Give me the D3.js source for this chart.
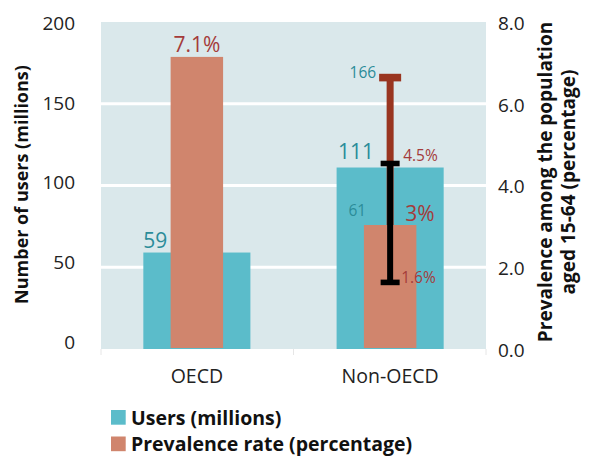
<!DOCTYPE html>
<html>
<head>
<meta charset="utf-8">
<script src="https://cdn.jsdelivr.net/npm/d3@7"></script>
<style>
  html, body { margin: 0; padding: 0; background: #fff; }
  svg { display: block; font-family: "Open Sans", "Noto Sans", sans-serif; }
</style>
</head>
<body>
<svg id="chart" width="592" height="456"></svg>
<script>
const categories = ["OECD", "Non-OECD"];
const users = [59, 111];
const prevalence = [7.1, 3];
const usersLabels = ["59", "111"];
const prevalenceLabels = ["7.1%", "3%"];
const usersRange = [null, [61, 166]];
const prevalenceRange = [null, [1.6, 4.5]];
const leftTicks = [0, 50, 100, 150, 200];
const rightTicks = [0, 2, 4, 6, 8];
const gridTicks = [50, 100, 150];
const legendItems = ["Users (millions)", "Prevalence rate (percentage)"];

const C = {
  bg: "#dae8eb", teal: "#5bbcca", salmon: "#d0856d",
  tealText: "#2b8c99", redText: "#a43b3a", brown: "#993520", black: "#000"
};

const svg = d3.select("#chart");

const x = d3.scaleBand().domain(categories).range([101, 486]).paddingInner(0.446).paddingOuter(0.219);
const yL = d3.scaleLinear().domain([0, 200]).range([349, 22]);
const yR = d3.scaleLinear().domain([0, 8]).range([348, 20]);
// label placement scales for axis tick text
const yLText = d3.scaleLinear().domain([0, 200]).range([342.5, 23.3]);
const yRText = d3.scaleLinear().domain([0, 8]).range([350, 23.3]);

// background
svg.append("rect").attr("x", x.range()[0]).attr("y", yL(200))
  .attr("width", x.range()[1] - x.range()[0]).attr("height", yL(0) - yL(200))
  .attr("fill", C.bg);

// grid
svg.selectAll("line.grid").data(gridTicks).join("line")
  .attr("x1", x.range()[0]).attr("x2", x.range()[1])
  .attr("y1", d => yL(d)).attr("y2", d => yL(d))
  .attr("stroke", "#fff").attr("stroke-width", 3);

// faint category ticks below
const c0 = x(categories[0]) + x.bandwidth() / 2, c1 = x(categories[1]) + x.bandwidth() / 2;
svg.selectAll("line.ctick").data([x.range()[0], (c0 + c1) / 2, x.range()[1]]).join("line")
  .attr("x1", d => d).attr("x2", d => d).attr("y1", yL(0)).attr("y2", yL(0) + 6)
  .attr("stroke", "#e6e6e6").attr("stroke-width", 1);

// users bars
svg.selectAll("rect.users").data(categories).join("rect")
  .attr("x", d => x(d)).attr("width", x.bandwidth())
  .attr("y", (d, i) => yL(users[i])).attr("height", (d, i) => yL(0) - yL(users[i]))
  .attr("fill", C.teal);

const pw = x.bandwidth() * 0.49;
const cx = d => x(d) + x.bandwidth() / 2;

// users error bar (brown)
categories.forEach((d, i) => {
  const r = usersRange[i];
  if (!r) return;
  svg.append("line").attr("x1", cx(d)).attr("x2", cx(d))
    .attr("y1", yL(r[0])).attr("y2", yL(r[1]))
    .attr("stroke", C.brown).attr("stroke-width", 7);
  r.forEach(v => svg.append("rect").attr("x", cx(d) - 11).attr("y", yL(v) - 3.8)
    .attr("width", 22).attr("height", 7.6).attr("fill", C.brown));
});

// prevalence bars
svg.selectAll("rect.prev").data(categories).join("rect")
  .attr("x", d => cx(d) - pw / 2).attr("width", pw)
  .attr("y", (d, i) => yR(prevalence[i])).attr("height", (d, i) => yR(0) - yR(prevalence[i]))
  .attr("fill", C.salmon);

// prevalence error bar (black)
categories.forEach((d, i) => {
  const r = prevalenceRange[i];
  if (!r) return;
  svg.append("line").attr("x1", cx(d)).attr("x2", cx(d))
    .attr("y1", yR(r[0])).attr("y2", yR(r[1]))
    .attr("stroke", C.black).attr("stroke-width", 6);
  r.forEach(v => svg.append("rect").attr("x", cx(d) - 9.5).attr("y", yR(v) - 2.8)
    .attr("width", 19).attr("height", 5.6).attr("fill", C.black));
});

// value labels
const big = 21, small = 15.5;
// users
svg.append("text").attr("x", x(categories[0])).attr("y", yL(users[0]) - 4.5)
  .attr("font-size", big).attr("fill", C.tealText).text(usersLabels[0]);
svg.append("text").attr("x", x(categories[1]) + 1.5).attr("y", yL(users[1]) - 8.5)
  .attr("font-size", big).attr("fill", C.tealText).text(usersLabels[1]);
// prevalence
svg.append("text").attr("x", cx(categories[0])).attr("y", yR(prevalence[0]) - 4.5)
  .attr("text-anchor", "middle").attr("font-size", big).attr("fill", C.redText).text(prevalenceLabels[0]);
svg.append("text").attr("x", cx(categories[1]) + 15).attr("y", yR(prevalence[1]) - 4)
  .attr("font-size", big).attr("fill", C.redText).text(prevalenceLabels[1]);
// ranges
const nc = categories[1];
svg.append("text").attr("x", cx(nc) - 14).attr("y", yL(usersRange[1][1]) + 0.5)
  .attr("text-anchor", "end").attr("font-size", small).attr("fill", C.tealText).text(usersRange[1][1]);
svg.append("text").attr("x", cx(nc) - 24).attr("y", yL(usersRange[1][0]) - 33)
  .attr("text-anchor", "end").attr("font-size", small).attr("fill", C.tealText).text(usersRange[1][0]);
svg.append("text").attr("x", cx(nc) + 13).attr("y", yR(prevalenceRange[1][1]) - 2.5)
  .attr("font-size", small).attr("fill", C.redText).text(prevalenceRange[1][1] + "%");
svg.append("text").attr("x", cx(nc) + 11).attr("y", yR(prevalenceRange[1][0]) + 0.8)
  .attr("font-size", small).attr("fill", C.redText).text(prevalenceRange[1][0] + "%");

// axes
const axL = svg.append("g").attr("transform", "translate(75,0)")
  .call(d3.axisLeft(yLText).tickValues(leftTicks).tickSize(0).tickPadding(0));
axL.select(".domain").remove();
axL.selectAll("text").attr("font-size", 19).attr("fill", "#222").attr("font-family", "Open Sans");

const axR = svg.append("g").attr("transform", "translate(498,0)")
  .call(d3.axisRight(yRText).tickValues(rightTicks).tickFormat(d3.format(".1f")).tickSize(0).tickPadding(0));
axR.select(".domain").remove();
axR.selectAll("text").attr("font-size", 19).attr("fill", "#222").attr("font-family", "Open Sans");

const axB = svg.append("g").attr("transform", `translate(0,${yL(0)})`)
  .call(d3.axisBottom(x).tickSize(0).tickPadding(20));
axB.select(".domain").remove();
axB.selectAll("text").attr("font-size", 19.5).attr("fill", "#222").attr("font-family", "Open Sans");

// axis titles
svg.append("text").attr("transform", `translate(28,${(yL(0) + yL(200)) / 2 - 1}) rotate(-90)`)
  .attr("text-anchor", "middle").attr("font-size", 18).attr("font-weight", "bold").attr("fill", "#111")
  .text("Number of users (millions)");
svg.append("text").attr("transform", `translate(552,182) rotate(-90)`)
  .attr("text-anchor", "middle").attr("font-size", 19).attr("font-weight", "bold").attr("fill", "#111")
  .text("Prevalence among the population");
svg.append("text").attr("transform", `translate(575,182) rotate(-90)`)
  .attr("text-anchor", "middle").attr("font-size", 19).attr("font-weight", "bold").attr("fill", "#111")
  .text("aged 15-64 (percentage)");

// legend
const lg = svg.append("g").attr("transform", "translate(111,410)");
const lcol = [C.teal, C.salmon];
legendItems.forEach((t, i) => {
  lg.append("rect").attr("x", 0).attr("y", i * 26.5).attr("width", 14.7).attr("height", 14.7).attr("fill", lcol[i]);
  lg.append("text").attr("x", 20).attr("y", i * 26.5 + 14.5).attr("font-size", 19.5)
    .attr("font-weight", "bold").attr("fill", "#111").text(t);
});
</script>
</body>
</html>
